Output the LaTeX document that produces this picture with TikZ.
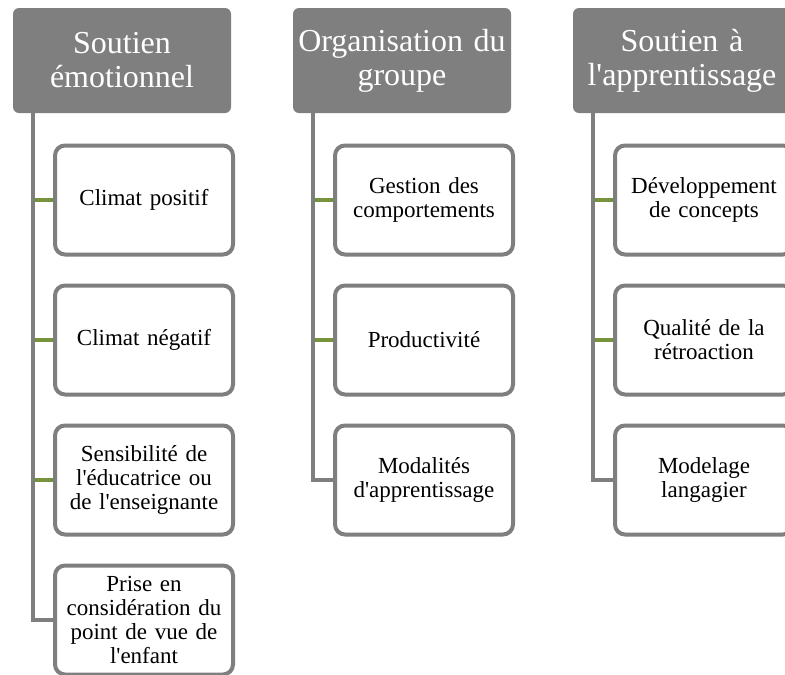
\documentclass[tikz,border=0pt]{standalone}
\usepackage{fontspec}
\setmainfont{Liberation Serif}[Ligatures=TeXOff]
\definecolor{hdgray}{RGB}{127,127,127}
\definecolor{lngreen}{RGB}{119,147,60}
\begin{document}
\begin{tikzpicture}[x=1pt,y=-1pt,
  header/.style={fill=hdgray,draw=none,rounded corners=6pt,minimum width=218pt,minimum height=105pt,
    inner sep=0pt,text=white,align=center,text width=214pt,font=\fontsize{32}{34}\selectfont},
  item/.style={fill=white,draw=hdgray,line width=4pt,rounded corners=10pt,minimum width=178pt,minimum height=109pt,
    inner sep=0pt,text=black,align=center,text width=174pt,font=\fontsize{23}{24}\selectfont},
  vline/.style={draw=hdgray,line width=4pt},
  gline/.style={draw=lngreen,line width=4pt}]
\useasboundingbox (0,0) rectangle (785,675);
\clip (0,0) rectangle (785,675);
\fill[white] (0,0) rectangle (785,675);
% headers
\node[header] (h1) at (122,60.5) {Soutien\\émotionnel};
\node[header] (h2) at (402,60.5) {Organisation du\\groupe};
\node[header] (h3) at (682,60.5) {Soutien à\\l'apprentissage};
% column 1
\node[item] (b11) at (144,200) {Climat positif};
\node[item] (b12) at (144,340) {Climat négatif};
\node[item] (b13) at (144,480) {Sensibilité de\\l'éducatrice ou\\de l'enseignante};
\node[item] (b14) at (144,620) {Prise en\\considération du\\point de vue de\\l'enfant};
% column 2
\node[item] (b21) at (424,200) {Gestion des\\comportements};
\node[item] (b22) at (424,340) {Productivité};
\node[item] (b23) at (424,480) {Modalités\\d'apprentissage};
% column 3
\node[item] (b31) at (704,200) {Développement\\de concepts};
\node[item] (b32) at (704,340) {Qualité de la\\rétroaction};
\node[item] (b33) at (704,480) {Modelage\\langagier};
% spine coordinates
\coordinate (s1) at ([xshift=-89pt]h1.south);
\coordinate (s2) at ([xshift=-89pt]h2.south);
\coordinate (s3) at ([xshift=-89pt]h3.south);
% green stubs
\foreach \b in {b11,b12,b13} \draw[gline] (\b.west -| s1) -- (\b.west);
\foreach \b in {b21,b22} \draw[gline] (\b.west -| s2) -- (\b.west);
\foreach \b in {b31,b32} \draw[gline] (\b.west -| s3) -- (\b.west);
% gray spines
\draw[vline] (s1) |- (b14.west);
\draw[vline] (s2) |- (b23.west);
\draw[vline] (s3) |- (b33.west);
\end{tikzpicture}
\end{document}
